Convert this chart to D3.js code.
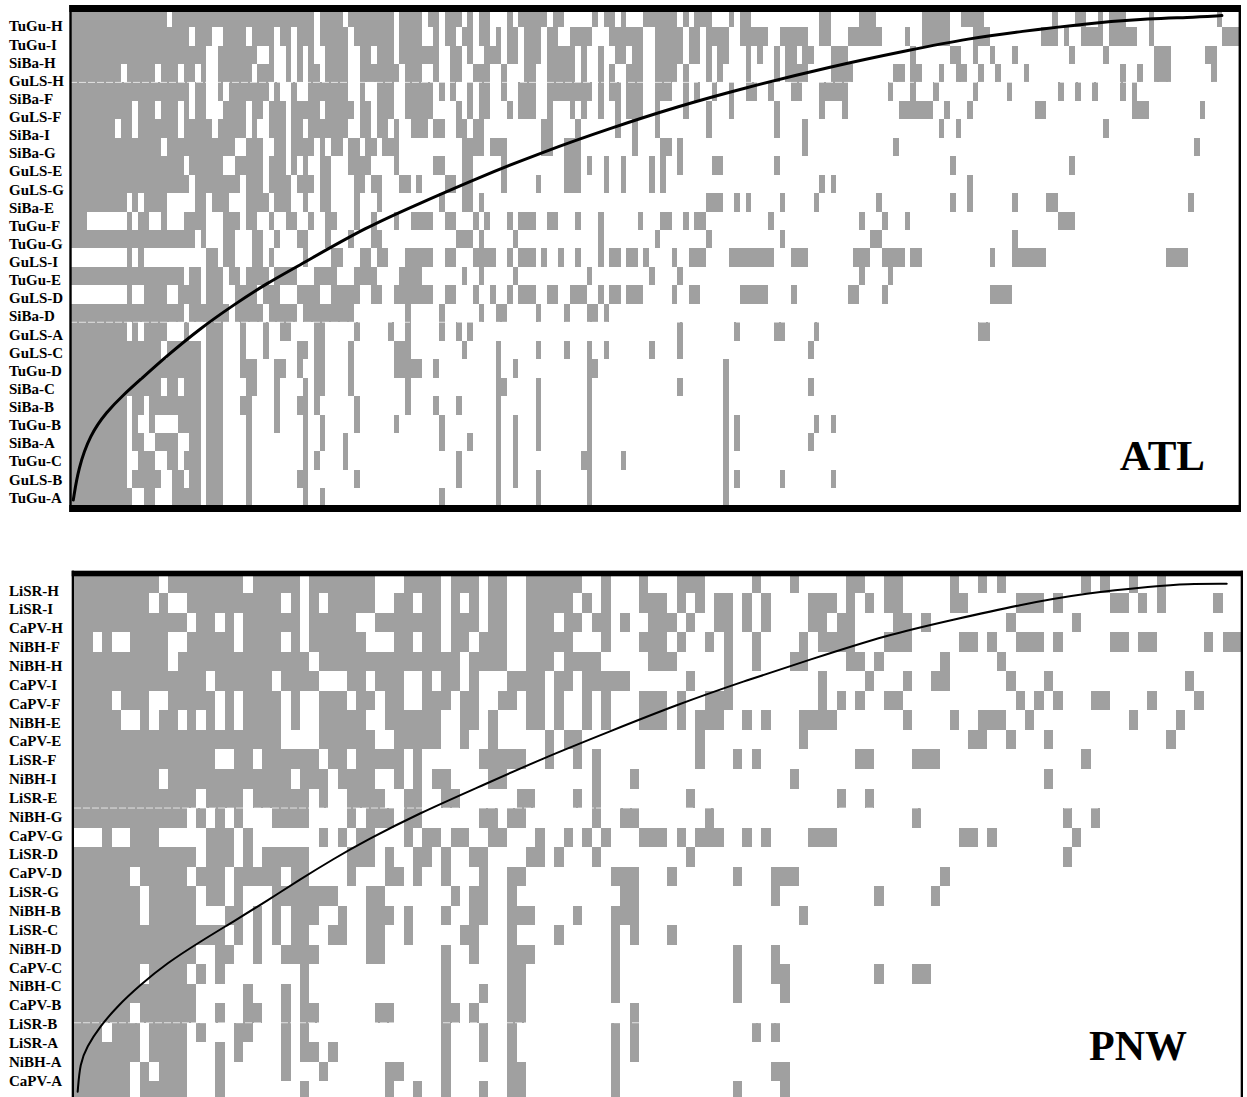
<!DOCTYPE html>
<html>
<head>
<meta charset="utf-8">
<script src="https://cdn.jsdelivr.net/npm/d3@7"></script>
<style>
  html, body { margin: 0; padding: 0; background: #fff; }
  svg { display: block; }
</style>
</head>
<body>
<svg id="chart" width="1247" height="1097"></svg>
<script>
// ---------- ATL: sites (rows, most species first) ----------
const atlSites = ["TuGu-H","TuGu-I","SiBa-H","GuLS-H","SiBa-F","GuLS-F","SiBa-I","SiBa-G","GuLS-E",
  "GuLS-G","SiBa-E","TuGu-F","TuGu-G","GuLS-I","TuGu-E","GuLS-D","SiBa-D","GuLS-A","GuLS-C",
  "TuGu-D","SiBa-C","SiBa-B","TuGu-B","SiBa-A","TuGu-C","GuLS-B","TuGu-A"];
const atlSpeciesCount = 206;
// presence runs per site: "a-b" = species a..b present (species ordered by frequency)
const atlPresence = [
  "0-16,18-42,44-47,49-56,58-61,63-64,66-68,70,72-73,77,79-83,85-86,92,94-95,97,101-106,108,110-112,116,118-119,132-133,139-141,150-154,157-160,173,177-178,181,183-185,190,202",
  "0-20,22-24,27-30,32-35,37-38,40-42,44-48,50-56,58-61,64,66-67,69-70,72-73,75,77-78,80-82,84-85,88-91,95-100,103-107,109-110,112-115,118-122,125-129,132-133,137-142,147,150-154,159-161,171-173,175,178-181,183-187,190,203-205",
  "0-23,26-32,35,38,40,42,45-48,51-52,54-56,58-64,67-68,70,73-75,77-78,80-82,84-88,90,93,96-97,99-100,103-107,109-110,112,114-115,119,121,124,126-127,129-130,134-136,148,155-156,159,162,166,176,182,191-193,200-201",
  "0-8,10-14,16-18,20-21,23,26-31,33-35,38,40,42-43,45-48,51-57,59-61,64,67-68,71-73,76,80-81,84-88,90,93,95,98-100,103-106,108,112,114,119,124,126-129,134-137,145-146,148-149,153,156-157,160,163,168,185,188,191-193,201",
  "0-20,22-23,26,28-34,36,39,42-48,51,54-56,59-63,65,67,70,72-73,76,79-81,84-91,93,95-96,98-100,103-105,108,110,113,116,119-120,123,127-128,132-136,144,148,152,159,165,174,177,180,185,187",
  "0-10,12-14,16-18,20,22-23,27-30,32-33,35-37,39-43,45-49,51-52,54-56,59-63,68,70,72-73,77,79-81,84,88,90,93,96,98-100,103,108,112,116,124,132,136,146-151,154,158,170-171,187-189,199",
  "0-7,9-10,12-18,20-24,26-30,32,35-37,39-40,42-48,51-52,54-55,57,60-62,64-65,68-69,71-72,83-84,89,96,99,103,112,124,129,153,156,182",
  "0-15,17-28,31-33,36-37,39-42,44,46-47,49-50,52-53,55-57,69-72,74-76,83-84,87-89,99,104-105,107,129,145,198",
  "0-19,21-26,29-33,35-37,39,41,44-45,49-52,57,64-65,69-70,76,87-89,91,94,97,102,104,107,113-114,124,155,176",
  "0-20,22-29,31-33,35-38,40-42,44-45,50-51,53-54,58-59,61,66-67,69-70,76,82,87-89,94,97,102,104,132,134,158",
  "0-9,11,13-16,22-23,25-27,31-34,36-38,41,44-45,50,54,65,69-70,72,112-114,117,119,125,131,142,155,158,166,172-173,197",
  "0-2,10,12-13,16,20-23,27-29,31-32,35,38-39,42,45-46,50,53,57,60-63,66-67,71,73,77,79-81,84-85,89,93,100,104-105,108,110-111,123,139,143,147,174-176",
  "0-21,23,27-28,32-33,36,40-41,45,49,53-54,68-70,72,78,93,103,112,125,141-142,166",
  "10,12,24-25,27-28,32-33,35,41,46-47,51-52,54-55,59-63,66-67,71-74,77,79-81,83,86,89,93,95-96,98-99,101,106,109-111,116-123,127-129,138-140,143-146,148-149,162,166-171,193-196",
  "0-19,21-22,24-26,28-29,31-34,36-39,43-46,50-53,58-61,69,72,78,91,102,107,139,144",
  "10,13-16,19-22,24-26,29-32,34-36,40-43,46-50,53-54,57-63,66-67,71,74,77,79-81,84-85,88-90,93,95-96,98-100,106,109-110,118-122,127,137-138,143,162-165",
  "0-19,21-27,29-33,35-39,41-49,59,65,72,75-76,82,87,91-92,94",
  "0-9,11,13-16,20,24-26,30,34,37-38,43-44,50,56,59,65,68,70,107,117,124-125,131,160-161",
  "0-15,17-22,24-26,30,34,40-41,43-44,49,57-59,69,75,82,87,91,94,102,107,130",
  "0-22,24-26,30-32,36-37,40,43-44,49,57-61,64,75,78,91-92,115",
  "0-15,17-18,20-22,24-26,31-32,36,41,43-44,49,59,75-76,82,91,107,115,130",
  "0-9,11-12,14-22,24-26,30-31,36,40-41,43,50,59,64,68,75,82,91,115",
  "0-9,11,14,19-22,24-26,31,36,41,44,50,57,65,75,78,82,91,115,117,131,134",
  "0-9,11-12,15-18,21-22,24-26,31,41,44,48,65,70,75,78,82,91,115,117,130",
  "0-9,12-14,17-18,20-22,24-26,31,41,43,48,68,75,78,90-91,97,115",
  "0-9,11-15,18-19,21-22,24-26,31,40-41,50,68,75,78,82,91,115,117,125,134",
  "0-10,13-14,18-22,24-26,31,41,44,65,75,82,91,115"
];
// isocline of perfect nestedness: [species position, site position]
const atlIsocline = [[0.58,26.63],[1.46,24.92],[3.52,23.11],[6.46,21.85],[9.39,20.94],[12.33,20.13],
  [17.03,18.83],[22.9,17.34],[28.77,16.07],[34.65,14.89],[40.5,13.9],[52.26,11.82],[61.65,10.55],
  [71.64,9.2],[83.37,7.76],[95.12,6.49],[106.87,5.32],[118.6,4.32],[133.9,3.15],[147.97,2.24],
  [158.5,1.61],[167.3,1.25],[179.1,0.8],[190.8,0.53],[196.7,0.49],[202.9,0.38]];
const atlSeams = [4, 17];

// ---------- PNW ----------
const pnwSites = ["LiSR-H","LiSR-I","CaPV-H","NiBH-F","NiBH-H","CaPV-I","CaPV-F","NiBH-E","CaPV-E",
  "LiSR-F","NiBH-I","LiSR-E","NiBH-G","CaPV-G","LiSR-D","CaPV-D","LiSR-G","NiBH-B","LiSR-C",
  "NiBH-D","CaPV-C","NiBH-C","CaPV-B","LiSR-B","LiSR-A","NiBH-A","CaPV-A"];
const pnwSpeciesCount = 124;
const pnwPresence = [
  "0-8,10-17,19-23,25-31,35-38,40-42,44-45,48-53,56,60,64-66,72,76,82-83,86-87,93,96,98,107,109,112,115",
  "0-7,9,12-21,23,25,27-31,34-35,37-38,40,42,44-45,48-52,54,56,60-62,64,66,68-69,71,73,78-80,82,84,86-87,93-94,100-102,104,110-111,113,115,121",
  "0-11,13-14,16,18-23,25-29,32-38,40-42,44-45,48-50,52-53,55-56,58,61-63,65,68-69,71,73,78-79,81-82,87-88,90,99,106",
  "0-1,3,6-9,12-16,18-21,23,25-30,34-35,37-38,40-41,43-45,48-52,56,60-62,64,67,69,72,77,79-82,86-88,94-95,97,100-102,104,110-111,113-114,120,122-123",
  "0-9,11-24,26-40,42-45,48-50,52-55,61-63,69,72,76-77,82-83,85,92,98",
  "0-13,15-20,22-25,29-30,32-34,37,39-40,42,46-49,51-52,54-58,65,69,79,84,88,91-92,99,103,118",
  "0-3,5-7,10-14,16,18-21,23,26-28,30-31,33-34,37-39,41-42,45-46,48-49,51,54,56,60-62,64,67-69,79,81,83,86-87,100,102,104,108-109,114,119",
  "0-4,7,9-10,12,14,16,18-21,23,26-30,33-38,41-42,44,48-49,51,54,56,60-62,64,66-68,71,73,77-80,88,93,96-98,101,112,117",
  "0-21,26-31,34-38,41,44,50,52-53,66,77,95-96,99,103,116",
  "0-14,17-18,20-25,27-28,30-34,36,43-47,50,53,55,66,70,72,83-84,89-91,107",
  "0-8,10-22,24-26,28-31,34,36,38-39,44-45,55,59,76,103",
  "0-12,14-17,19-24,26,29-32,35-36,39-40,47-48,53,55,65,81,84",
  "0-11,13,15,17,21-24,29,31-33,35-36,43-44,46-47,55,58-59,67,89,105,108",
  "3,6-8,14-16,18,26,28,30-31,35,37-38,40-41,44-45,49,52,54,56,60-62,64,66-68,71,73,78-80,94-95,97,106",
  "0-12,14-16,18,20-24,29-31,33,36-37,39,42-43,48-49,51,55,65,105",
  "0-5,7-11,13-15,17-21,23-24,29,33-34,36,39,43,46-47,57-59,63,70,74-76,92",
  "0-6,8-12,14-15,17,21-27,31-32,40,42-43,46,58-59,74,85,91",
  "0-6,8-12,16-17,19,21,23-25,28,31-33,35,39,42-43,46-48,53,57-59,77",
  "0-15,17,19,21,23-24,27-28,31-32,35,41-42,46,51,57,59,63",
  "0-12,15-16,19,22-25,31-32,39,42,46-48,57,70,74",
  "0-6,8-11,13,15,24,39,46-47,57,70,74-75,85,89-90",
  "0-12,18,22,24,39,43,46-47,57,70,75",
  "0-5,7-12,15,18-19,22,24-25,32-33,39-40,42,46-47,59",
  "0-2,4-6,8-11,13,17-18,22,24,39,43,46,57,59,72,74",
  "0-6,8-11,15,17,22,24-25,27,39,43,46,57,59",
  "0-5,7,9-11,15,22,26,33-34,39,46-47,57,74-75",
  "0-5,7-11,15,24,33,36,39,43,46-47,57,70,75"
];
const pnwIsocline = [[0.39,26.53],[0.64,25.08],[1.35,24.23],[2.76,23.2],[4.54,22.18],[7.01,21.07],
  [9.85,19.95],[13.38,18.85],[16.92,17.82],[20.47,16.76],[24.0,15.66],[27.54,14.61],[31.09,13.64],
  [36.75,12.25],[42.77,10.97],[49.85,9.44],[56.93,8.07],[64.01,6.71],[71.09,5.51],[78.17,4.4],
  [86.32,3.13],[93.39,2.35],[100.48,1.58],[107.56,0.98],[114.64,0.64],[118.18,0.51],[122.43,0.51]];
const pnwSeams = [12, 23];

const panelTitles = ["ATL", "PNW"];

// ---------- drawing ----------
const CELL_FILL = "#a0a0a0";
const svg = d3.select("#chart");

function parseRuns(s) {
  return s.split(",").filter(t => t.length).map(t => {
    const parts = t.split("-").map(Number);
    return [parts[0], parts.length > 1 ? parts[1] : parts[0]];
  });
}

function drawPanel(p) {
  const nRows = p.sites.length;
  const x = d3.scaleLinear().domain([0, p.species]).range([p.left, p.right]);
  const y = d3.scaleLinear().domain([0, nRows]).range([p.top, p.top + p.rowH * nRows]);
  const labelY = d3.scalePoint().domain(p.sites).range(p.labelRange);

  const g = svg.append("g");

  const cells = p.presence.flatMap((s, i) => parseRuns(s).map(r => ({ row: i, a: r[0], b: r[1] })));
  g.append("g").attr("shape-rendering", "crispEdges")
    .selectAll("rect").data(cells).join("rect")
    .attr("x", d => x(d.a))
    .attr("width", d => x(d.b + 1) - x(d.a))
    .attr("y", d => y(d.row))
    .attr("height", d => y(d.row + 1) - y(d.row))
    .attr("fill", CELL_FILL);

  // faint seams left by the tiled export
  g.append("g").selectAll("line").data(p.seams).join("line")
    .attr("x1", x(0)).attr("x2", x(p.species))
    .attr("y1", d => y(d)).attr("y2", d => y(d))
    .attr("stroke", "#fff").attr("stroke-opacity", 0.7)
    .attr("stroke-width", 1).attr("stroke-dasharray", "7,2");

  // isocline
  const line = d3.line().x(d => x(d[0])).y(d => y(d[1])).curve(d3.curveBasis);
  g.append("path").datum(p.isocline)
    .attr("d", line)
    .attr("fill", "none").attr("stroke", "#000")
    .attr("stroke-width", p.curveWidth).attr("stroke-linecap", "round");

  // frame: heavy top and bottom rules, thin sides
  const f = p.frame;
  g.append("rect").attr("x", f.x0).attr("y", f.y0).attr("width", f.x1 - f.x0).attr("height", f.thick).attr("fill", "#000");
  g.append("rect").attr("x", f.x0).attr("y", f.y1 - f.thick).attr("width", f.x1 - f.x0).attr("height", f.thick).attr("fill", "#000");
  g.append("rect").attr("x", f.x0).attr("y", f.y0).attr("width", f.thin).attr("height", f.y1 - f.y0).attr("fill", "#000");
  g.append("rect").attr("x", f.x1 - f.thin).attr("y", f.y0).attr("width", f.thin).attr("height", f.y1 - f.y0).attr("fill", "#000");

  // site labels
  g.append("g").selectAll("text").data(p.sites).join("text")
    .attr("x", 9).attr("y", d => labelY(d)).attr("dy", "0.33em")
    .attr("font-family", "'Liberation Serif', 'Times New Roman', serif")
    .attr("font-weight", "bold").attr("font-size", 15)
    .attr("fill", "#000")
    .text(d => d);

  // panel title
  g.append("text")
    .attr("x", p.titlePos[0]).attr("y", p.titlePos[1])
    .attr("text-anchor", "end")
    .attr("font-family", "'Liberation Serif', 'Times New Roman', serif")
    .attr("font-weight", "bold").attr("font-size", p.titleSize)
    .attr("fill", "#000")
    .text(p.title);
}

drawPanel({
  sites: atlSites, species: atlSpeciesCount, presence: atlPresence, isocline: atlIsocline, seams: atlSeams,
  left: 70, right: 1239.5, top: 8.6, rowH: 18.45, labelRange: [26.5, 497.8],
  frame: { x0: 69.3, x1: 1241, y0: 5, y1: 512, thick: 7, thin: 2.4 },
  curveWidth: 3, title: panelTitles[0], titlePos: [1205, 470], titleSize: 43
});

drawPanel({
  sites: pnwSites, species: pnwSpeciesCount, presence: pnwPresence, isocline: pnwIsocline, seams: pnwSeams,
  left: 74, right: 1241.5, top: 573.8, rowH: 19.52, labelRange: [590.7, 1080.7],
  frame: { x0: 71.7, x1: 1243, y0: 570.7, y1: 1106, thick: 5.6, thin: 2.3 },
  curveWidth: 2, title: panelTitles[1], titlePos: [1187, 1060], titleSize: 42
});
</script>
</body>
</html>
